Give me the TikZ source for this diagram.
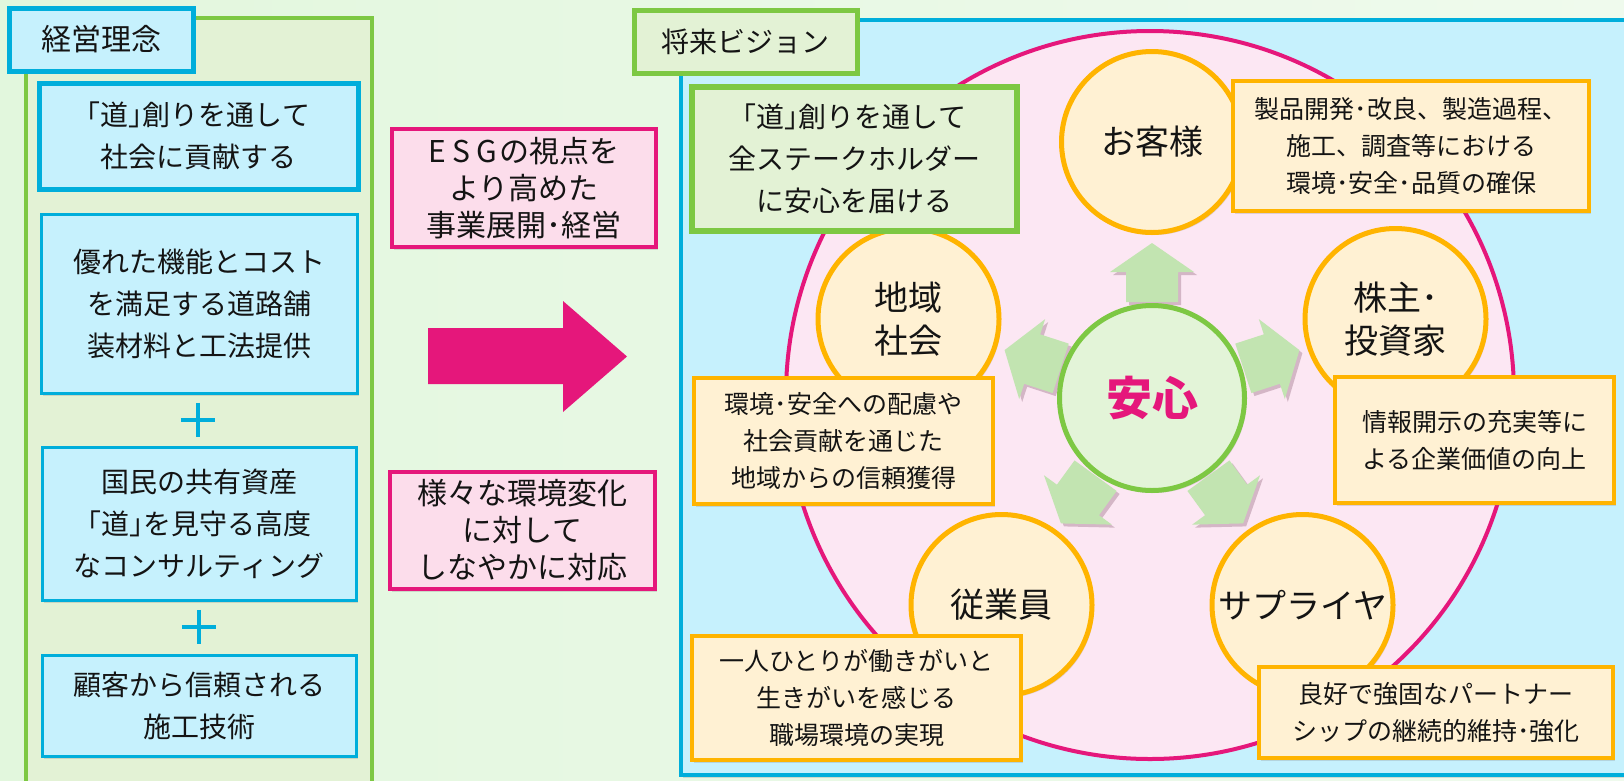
\documentclass[tikz,border=0pt]{standalone}
\usepackage{fontspec}
\setmainfont{Noto Sans CJK JP}
\usetikzlibrary{shadows}
\definecolor{bgl}{HTML}{E2F7DD}
\definecolor{bgr}{HTML}{EFFAED}
\definecolor{pg}{HTML}{E3F2D5}
\definecolor{gb}{HTML}{7DC843}
\definecolor{cy}{HTML}{00AEDB}
\definecolor{cyf}{HTML}{C6F1FD}
\definecolor{pk}{HTML}{E5177B}
\definecolor{pkf}{HTML}{FCDDEB}
\definecolor{ell}{HTML}{FCE7F3}
\definecolor{orb}{HTML}{FFB400}
\definecolor{orf}{HTML}{FFF1D3}
\definecolor{arg}{HTML}{C2E4B1}
\definecolor{ctf}{HTML}{E3F4D8}
\definecolor{txt}{HTML}{141414}
\tikzset{
 shd/.style={drop shadow={opacity=0.25, shadow xshift=2pt, shadow yshift=-2.5pt}},
 base/.style={inner sep=0pt, align=center, text=txt},
 cybox/.style={base, draw=cy, fill=cyf, line width=3pt, shd, font=\fontsize{28}{42}\selectfont},
 pkbox/.style={base, draw=pk, fill=pkf, line width=4pt, shd, font=\fontsize{30}{37}\selectfont},
 orbox/.style={base, draw=orb, fill=orf, line width=3.5pt, shd, font=\fontsize{25}{37}\selectfont},
 orcirc/.style={base, circle, draw=orb, fill=orf, line width=5pt, minimum size=181pt, shd, font=\fontsize{34}{43}\selectfont},
 grbox/.style={base, draw=gb, fill=pg, line width=5.5pt, shd},
 garrow/.style={fill=arg, drop shadow={opacity=0.3, shadow xshift=3pt, shadow yshift=-3pt, fill=black!60!magenta}},
}
\begin{document}
\begin{tikzpicture}[x=1pt,y=-1pt]
\useasboundingbox (0,0) rectangle (1624,780);
\shade[left color=bgl, right color=bgr] (0,0) rectangle (1624,780);

% ---------- left panel ----------
\node[draw=gb, fill=pg, line width=4pt, minimum width=346pt, minimum height=765pt, inner sep=0, shd] (lp) at (199,400.5) {};
\node[cybox, line width=5pt, minimum width=184pt, minimum height=63pt, font=\fontsize{30}{36}\selectfont] (lbl1) at (101,39.5) {経営理念};
\node[cybox, line width=5pt, minimum width=319pt, minimum height=106pt] (b1) at (198.5,136) {｢道｣創りを通して\\社会に貢献する};
\node[cybox, minimum width=316pt, minimum height=179pt] (b2) at (199,303.5) {優れた機能とコスト\\を満足する道路舗\\装材料と工法提供};
\node[inner sep=0, minimum size=34pt] (p1) at (198,420) {};
\draw[cy, line width=4.5pt] (p1.west) -- (p1.east) (p1.north) -- (p1.south);
\node[cybox, minimum width=314pt, minimum height=153pt] (b3) at (199,523.5) {国民の共有資産\\｢道｣を見守る高度\\なコンサルティング};
\node[inner sep=0, minimum size=34pt] (p2) at (199,627) {};
\draw[cy, line width=4.5pt] (p2.west) -- (p2.east) (p2.north) -- (p2.south);
\node[cybox, minimum width=314pt, minimum height=101pt] (b4) at (199,705.5) {顧客から信頼される\\施工技術};

% ---------- middle ----------
\node[pkbox, minimum width=264pt, minimum height=118pt] (m1) at (524,188) {E\kern6pt S\kern6pt G\kern2pt の視点を\\より高めた\\事業展開･経営};
\node[pkbox, minimum width=265pt, minimum height=117pt] (m2) at (522.5,530.5) {様々な環境変化\\に対して\\しなやかに対応};
\fill[pk] (428,328) -- (563,328) -- (563,301) -- (627,356.5) -- (563,412) -- (563,384) -- (428,384) -- cycle;

% ---------- right panel ----------
\node[draw=cy, fill=cyf, line width=4pt, minimum width=949pt, minimum height=755pt, inner sep=0, shd] (rp) at (1155.5,397.5) {};
\node[grbox, line width=5pt, minimum width=223pt, minimum height=63pt, font=\fontsize{28}{34}\selectfont] (lbl2) at (745.5,41.5) {将来ビジョン};
\node[circle, draw=pk, fill=ell, line width=4pt, minimum size=728pt, inner sep=0] (big) at (1150,395) {};

% arrows from the centre
\foreach \a in {90,162,18,234,306}{
 \begin{scope}[shift={(1152,398)}, rotate=\a]
  \path[garrow] (96,-26) -- (126,-26) -- (126,-42) -- (155,0) -- (126,42) -- (126,26) -- (96,26) -- cycle;
 \end{scope}
}
\node[circle, draw=gb, fill=ctf, line width=5pt, minimum size=185pt, inner sep=0, shd, text=pk, font=\fontsize{46}{50}\selectfont\bfseries] (ctr) at (1152,398) {安心};

\node[orcirc] (c1) at (1152,142) {お客様};
\node[orcirc] (c2) at (908.5,319) {地域\\社会};
\node[orcirc] (c3) at (1395.5,319) {株主･\\投資家};
\node[orcirc] (c4) at (1001.5,605) {従業員};
\node[orcirc] (c5) at (1302.5,605) {サプライヤ};

\node[grbox, minimum width=325pt, minimum height=144pt, font=\fontsize{28}{42}\selectfont] (g1) at (854.5,159) {｢道｣創りを通して\\全ステークホルダー\\に安心を届ける};

\node[orbox, minimum width=356pt, minimum height=130pt] (o1) at (1411,146) {製品開発･改良、製造過程、\\施工、調査等における\\環境･安全･品質の確保};
\node[orbox, minimum width=299pt, minimum height=126pt] (o2) at (843.5,441) {環境･安全への配慮や\\社会貢献を通じた\\地域からの信頼獲得};
\node[orbox, minimum width=279pt, minimum height=126pt] (o3) at (1474.5,440) {情報開示の充実等に\\よる企業価値の向上};
\node[orbox, minimum width=329pt, minimum height=124pt] (o4) at (856.5,698) {一人ひとりが働きがいと\\生きがいを感じる\\職場環境の実現};
\node[orbox, minimum width=354pt, minimum height=91pt] (o5) at (1436,712.5) {良好で強固なパートナー\\シップの継続的維持･強化};
\end{tikzpicture}
\end{document}
